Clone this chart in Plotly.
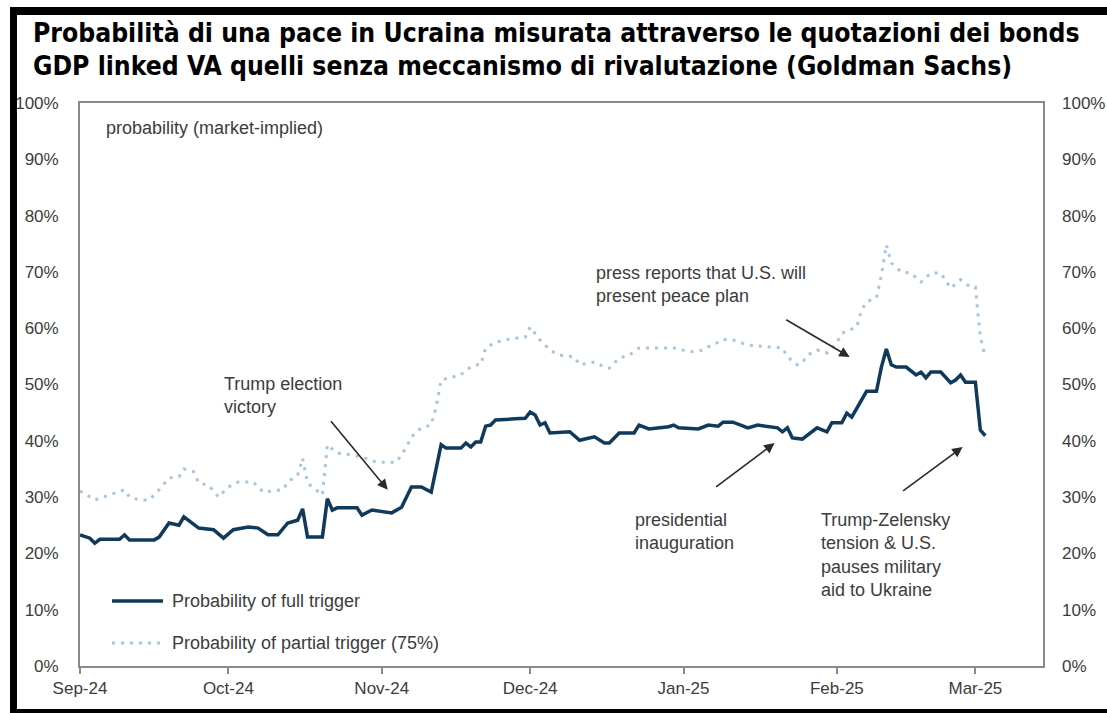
import plotly.graph_objects as go

# Market-implied probability series (percent)
dates_full = [
    "2024-09-01", "2024-09-03", "2024-09-04", "2024-09-05", "2024-09-09", "2024-09-10",
    "2024-09-11", "2024-09-16", "2024-09-17", "2024-09-19", "2024-09-21", "2024-09-22",
    "2024-09-25", "2024-09-28", "2024-09-30", "2024-10-02", "2024-10-05", "2024-10-07",
    "2024-10-09", "2024-10-11", "2024-10-13", "2024-10-15", "2024-10-16", "2024-10-17",
    "2024-10-20", "2024-10-21", "2024-10-22", "2024-10-23", "2024-10-27", "2024-10-28",
    "2024-10-30", "2024-11-03", "2024-11-05", "2024-11-06", "2024-11-07", "2024-11-09",
    "2024-11-11", "2024-11-13", "2024-11-14", "2024-11-17", "2024-11-18", "2024-11-19",
    "2024-11-20", "2024-11-21", "2024-11-22", "2024-11-23", "2024-11-24", "2024-11-28",
    "2024-11-30", "2024-12-01", "2024-12-02", "2024-12-03", "2024-12-04", "2024-12-05",
    "2024-12-09", "2024-12-11", "2024-12-14", "2024-12-16", "2024-12-17", "2024-12-19",
    "2024-12-22", "2024-12-23", "2024-12-25", "2024-12-29", "2024-12-30", "2024-12-31",
    "2025-01-04", "2025-01-06", "2025-01-08", "2025-01-09", "2025-01-11", "2025-01-14",
    "2025-01-16", "2025-01-20", "2025-01-21", "2025-01-22", "2025-01-23", "2025-01-25",
    "2025-01-28", "2025-01-30", "2025-01-31", "2025-02-02", "2025-02-03", "2025-02-04",
    "2025-02-07", "2025-02-09", "2025-02-10", "2025-02-11", "2025-02-12", "2025-02-13",
    "2025-02-15", "2025-02-17", "2025-02-18", "2025-02-19", "2025-02-20", "2025-02-22",
    "2025-02-24", "2025-02-25", "2025-02-26", "2025-02-27", "2025-03-01", "2025-03-02",
    "2025-03-03",
]
full_trigger = [
    23.3, 22.7, 21.8, 22.5, 22.5, 23.3,
    22.4, 22.4, 22.9, 25.4, 25.0, 26.5,
    24.5, 24.2, 22.7, 24.2, 24.7, 24.5,
    23.3, 23.3, 25.4, 25.9, 27.9, 22.9,
    22.9, 29.7, 27.7, 28.1, 28.1, 26.8,
    27.7, 27.2, 28.2, 30.0, 31.8, 31.8,
    30.9, 39.3, 38.7, 38.7, 39.6, 38.9,
    39.8, 39.8, 42.6, 42.8, 43.7, 43.9,
    44.0, 45.1, 44.6, 42.8, 43.2, 41.4,
    41.6, 40.1, 40.7, 39.6, 39.6, 41.4,
    41.4, 42.8, 42.1, 42.5, 42.8, 42.3,
    42.1, 42.8, 42.6, 43.3, 43.3, 42.3,
    42.8, 42.3, 41.6, 42.3, 40.5, 40.3,
    42.3, 41.6, 43.2, 43.2, 44.9, 44.2,
    48.8, 48.8, 53.1, 56.3, 53.5, 53.1,
    53.1, 51.7, 52.2, 51.2, 52.2, 52.2,
    50.3, 50.8, 51.7, 50.4, 50.4, 41.9,
    40.9,
]

dates_partial = [
    "2024-09-01", "2024-09-04", "2024-09-07", "2024-09-10", "2024-09-11", "2024-09-13",
    "2024-09-15", "2024-09-17", "2024-09-19", "2024-09-21", "2024-09-22", "2024-09-24",
    "2024-09-25", "2024-09-27", "2024-09-29", "2024-10-01", "2024-10-03", "2024-10-06",
    "2024-10-08", "2024-10-12", "2024-10-13", "2024-10-15", "2024-10-16", "2024-10-17",
    "2024-10-20", "2024-10-21", "2024-10-23", "2024-10-26", "2024-10-28", "2024-10-31",
    "2024-11-04", "2024-11-06", "2024-11-07", "2024-11-09", "2024-11-11", "2024-11-12",
    "2024-11-13", "2024-11-15", "2024-11-17", "2024-11-18", "2024-11-20", "2024-11-21",
    "2024-11-22", "2024-11-24", "2024-11-27", "2024-11-30", "2024-12-01", "2024-12-03",
    "2024-12-05", "2024-12-07", "2024-12-10", "2024-12-11", "2024-12-14", "2024-12-16",
    "2024-12-17", "2024-12-19", "2024-12-21", "2024-12-23", "2024-12-27", "2024-12-30",
    "2025-01-01", "2025-01-03", "2025-01-05", "2025-01-06", "2025-01-08", "2025-01-09",
    "2025-01-11", "2025-01-14", "2025-01-18", "2025-01-21", "2025-01-22", "2025-01-24",
    "2025-01-25", "2025-01-26", "2025-01-28", "2025-01-30", "2025-02-01", "2025-02-02",
    "2025-02-05", "2025-02-06", "2025-02-07", "2025-02-09", "2025-02-10", "2025-02-11",
    "2025-02-12", "2025-02-14", "2025-02-16", "2025-02-18", "2025-02-20", "2025-02-22",
    "2025-02-24", "2025-02-26", "2025-02-28", "2025-03-01", "2025-03-02", "2025-03-03",
]
partial_trigger = [
    31.1, 29.5, 30.4, 31.3, 30.0, 29.5,
    29.5, 31.3, 33.4, 33.6, 35.0, 34.5,
    32.5, 32.1, 30.0, 31.8, 32.7, 32.7,
    30.9, 31.3, 32.7, 33.9, 36.9, 32.5,
    30.4, 39.3, 37.8, 37.5, 37.1, 36.2,
    36.2, 38.9, 40.7, 42.3, 42.8, 46.0,
    50.8, 51.3, 51.7, 52.6, 53.5, 53.5,
    56.5, 57.5, 58.1, 58.4, 60.2, 57.9,
    56.1, 55.2, 54.9, 53.5, 54.0, 53.1,
    52.9, 54.7, 55.2, 56.5, 56.5, 56.5,
    56.1, 55.8, 56.1, 56.7, 57.5, 58.0,
    57.9, 57.0, 56.7, 56.5, 54.9, 53.5,
    53.8, 55.2, 56.1, 55.6, 57.4, 59.1,
    60.2, 63.2, 64.7, 65.4, 69.4, 74.8,
    71.6, 70.0, 69.8, 68.2, 69.8, 69.8,
    67.1, 68.6, 67.3, 67.3, 58.4, 54.9,
]

month_ticks = ["2024-09-01", "2024-10-01", "2024-11-01", "2024-12-01",
               "2025-01-01", "2025-02-01", "2025-03-01"]
pct_ticks = list(range(0, 101, 10))
pct_labels = [f"{v}%" for v in pct_ticks]

title_lines = [
    "Probabilità di una pace in Ucraina misurata attraverso le quotazioni dei bonds",
    "GDP linked VA quelli senza meccanismo di rivalutazione (Goldman Sachs)",
]

# Page geometry (pixels)
FIG_W, FIG_H = 1107, 713
PLOT_L, PLOT_R, PLOT_T, PLOT_B = 80, 1043, 103, 666


def px(x):
    return (x - PLOT_L) / (PLOT_R - PLOT_L)


def py(y):
    return (PLOT_B - y) / (PLOT_B - PLOT_T)


FULL_COLOR = "#0f3a5c"
PARTIAL_COLOR = "#a9c5dd"
PARTIAL_DASH = "3px,6px"
TEXT_COLOR = "#3c3c3c"
AXIS_COLOR = "#8a8a8a"
BODY_FONT = "Liberation Sans, Arial, sans-serif"

fig = go.Figure()
fig.add_trace(go.Scatter(
    x=dates_partial, y=partial_trigger, mode="lines",
    name="Probability of partial trigger (75%)",
    line=dict(color=PARTIAL_COLOR, width=3, dash=PARTIAL_DASH),
    showlegend=False,
))
fig.add_trace(go.Scatter(
    x=dates_full, y=full_trigger, mode="lines",
    name="Probability of full trigger",
    line=dict(color=FULL_COLOR, width=3.5),
    showlegend=False,
))
# mirror trace for the right-hand percentage scale
fig.add_trace(go.Scatter(
    x=dates_full, y=full_trigger, mode="lines", yaxis="y2",
    line=dict(width=0), opacity=0, hoverinfo="skip", showlegend=False,
))

tick_font = dict(family=BODY_FONT, size=17, color=TEXT_COLOR)

fig.update_layout(
    width=FIG_W, height=FIG_H,
    margin=dict(l=PLOT_L, r=FIG_W - PLOT_R, t=PLOT_T, b=FIG_H - PLOT_B, pad=0,
                autoexpand=False),
    paper_bgcolor="white", plot_bgcolor="white",
    xaxis=dict(
        type="date", range=["2024-09-01", "2025-03-14 16:00"],
        tickvals=month_ticks, tickformat="%b-%y", automargin=False,
        ticks="outside", ticklen=6, tickwidth=1.5, tickcolor=AXIS_COLOR,
        showline=True, linecolor=AXIS_COLOR, linewidth=1.8, mirror=True,
        showgrid=False, zeroline=False, tickfont=tick_font,
    ),
    yaxis=dict(
        range=[0, 100], tickmode="array", tickvals=pct_ticks, ticktext=pct_labels,
        ticks="", showline=True, linecolor=AXIS_COLOR, linewidth=1.8, mirror=True,
        showgrid=False, zeroline=False, tickfont=tick_font, ticklabelstandoff=16,
        automargin=False,
    ),
    yaxis2=dict(
        range=[0, 100], tickmode="array", tickvals=pct_ticks, ticktext=pct_labels,
        overlaying="y", side="right", ticks="", showline=False, showgrid=False,
        zeroline=False, tickfont=tick_font, ticklabelstandoff=18, automargin=False,
    ),
    showlegend=False,
)

annotations = []

# Two-line bold title
for text, yc in zip(title_lines, [33, 66]):
    annotations.append(dict(
        xref="paper", yref="paper", x=px(31), y=py(yc),
        xanchor="left", yanchor="middle", showarrow=False, text=text,
        font=dict(family="DejaVu Sans Condensed, Liberation Sans Narrow, sans-serif",
                  size=26.3, color="black", weight="bold"),
    ))

note_font = dict(family=BODY_FONT, size=18, color=TEXT_COLOR)


def note(text, x, y_top):
    annotations.append(dict(
        xref="paper", yref="paper", x=px(x), y=py(y_top),
        xanchor="left", yanchor="top", align="left", showarrow=False,
        text=text, font=note_font,
    ))


note("probability (market-implied)", 104, 116)
note("Trump election<br>victory", 222, 372)
note("press reports that U.S. will<br>present peace plan", 594, 261)
note("presidential<br>inauguration", 633, 508)
note("Trump-Zelensky<br>tension & U.S.<br>pauses military<br>aid to Ukraine", 819, 508)


def arrow(x_date, y_val, ax, ay):
    annotations.append(dict(
        xref="x", yref="y", x=x_date, y=y_val, ax=ax, ay=ay,
        axref="pixel", ayref="pixel", text="", showarrow=True,
        arrowhead=2, arrowsize=1.3, arrowwidth=1.6, arrowcolor="#2a2a2a",
        standoff=0, startstandoff=0,
    ))


arrow("2024-11-02 05:00", 31.3, -58, -70)
arrow("2025-02-03 14:00", 54.9, -65, -38)
arrow("2025-01-19 10:00", 39.6, -60, 45)
arrow("2025-02-26 10:00", 38.9, -61, 45)

# Legend drawn inside the plot area
legend_items = [
    ("Probability of full trigger", 601, dict(color=FULL_COLOR, width=3.5)),
    ("Probability of partial trigger (75%)", 643,
     dict(color=PARTIAL_COLOR, width=3, dash=PARTIAL_DASH)),
]
shapes = []
for label, yc, style in legend_items:
    shapes.append(dict(type="line", xref="paper", yref="paper",
                       x0=px(112), x1=px(163), y0=py(yc), y1=py(yc), line=style))
    annotations.append(dict(
        xref="paper", yref="paper", x=px(170), y=py(yc),
        xanchor="left", yanchor="middle", showarrow=False,
        text=label, font=note_font,
    ))

# Black frame around the page
frame = dict(type="rect", xref="paper", yref="paper", fillcolor="black",
             line=dict(width=0), layer="above")
shapes.append(dict(frame, x0=px(10), x1=px(FIG_W + 2), y0=py(15), y1=py(7)))
shapes.append(dict(frame, x0=px(10), x1=px(17), y0=py(FIG_H + 2), y1=py(7)))
shapes.append(dict(frame, x0=px(10), x1=px(FIG_W + 2), y0=py(FIG_H + 2), y1=py(709)))

fig.update_layout(annotations=annotations, shapes=shapes)

fig.write_html("out.html")
